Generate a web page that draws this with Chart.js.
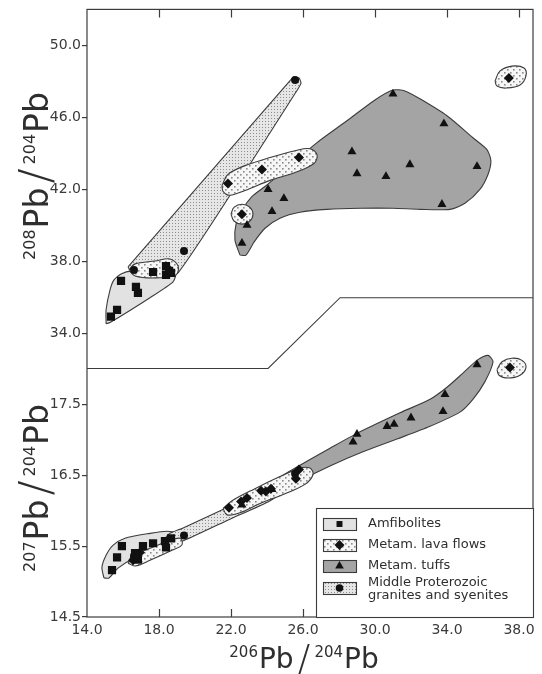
<!DOCTYPE html>
<html>
<head>
<meta charset="utf-8">
<title>Pb isotope diagram</title>
<script src="https://cdn.jsdelivr.net/npm/chart.js@4.4.1/dist/chart.umd.min.js"></script>
<style>
    html, body { margin: 0; padding: 0; background: #fff; }
    #wrap { position: relative; width: 542px; height: 674px; }
</style>
</head>
<body>
<div id="wrap"><canvas id="chart"></canvas></div>
<script>
// Axis limits and ticks (both y axes span the whole frame, one per panel)
const xMin = 14, xMax = 38.78;
const yTopMin = 18.23, yTopMax = 51.99;
const yBotMin = 14.5, yBotMax = 23.07;
const xTicks = [14, 18, 22, 26, 30, 34, 38];
const yTopTicks = [34, 38, 42, 46, 50];
const yBotTicks = [14.5, 15.5, 16.5, 17.5];

// Upper panel: 208Pb/204Pb against 206Pb/204Pb
const amfTopX = [15.33, 15.67, 15.89, 16.72, 16.83, 17.67, 18.39, 18.39, 18.56, 18.67];
const amfTopY = [34.92, 35.30, 36.91, 36.57, 36.24, 37.40, 37.73, 37.24, 37.46, 37.35];
const lavaTopX = [18.50, 21.83, 22.61, 23.72, 25.78, 37.44];
const lavaTopY = [37.60, 42.32, 40.61, 43.09, 43.76, 48.18];
const tuffTopX = [22.61, 22.89, 24.06, 24.28, 24.94, 28.72, 29.00, 30.61, 31.00, 31.94, 33.72, 33.83, 35.67];
const tuffTopY = [39.00, 40.00, 41.99, 40.77, 41.49, 44.09, 42.87, 42.71, 47.29, 43.37, 41.16, 45.64, 43.26];
const granTopX = [16.61, 19.39, 25.56];
const granTopY = [37.51, 38.56, 48.07];

// Lower panel: 207Pb/204Pb against 206Pb/204Pb
const amfBotX = [15.39, 15.67, 15.94, 16.67, 16.83, 17.11, 17.67, 18.33, 18.39, 18.67];
const amfBotY = [15.16, 15.34, 15.50, 15.40, 15.31, 15.50, 15.54, 15.57, 15.48, 15.61];
const lavaBotX = [16.56, 16.94, 21.89, 22.56, 22.89, 23.67, 23.94, 24.22, 25.61, 25.78, 37.50];
const lavaBotY = [15.30, 15.41, 16.04, 16.13, 16.18, 16.28, 16.27, 16.31, 16.45, 16.58, 18.02];
const tuffBotX = [22.61, 24.28, 28.78, 29.00, 30.67, 31.06, 32.00, 33.78, 33.89, 35.67];
const tuffBotY = [16.08, 16.30, 16.97, 17.08, 17.19, 17.22, 17.31, 17.40, 17.64, 18.06];
const granBotX = [16.61, 19.39, 25.56];
const granBotY = [15.36, 15.65, 16.52];

// Field outlines, [x, y] in data units
const amfTopOutline = [[15.06, 34.53], [15.06, 35.30], [15.28, 36.41], [15.50, 36.96], [15.89, 37.29], [16.50, 37.46],
    [18.06, 37.51], [18.94, 37.40], [18.78, 36.85], [17.50, 35.97], [15.28, 34.59]];
const granTopOutline = [[16.28, 37.68], [25.22, 47.96], [25.50, 48.23], [25.78, 48.18], [25.89, 47.90], [25.72, 47.57],
    [19.06, 37.35], [17.50, 37.29], [16.39, 37.51]];
const tuffTopOutline = [[22.50, 38.34], [22.22, 39.17], [22.28, 40.06], [22.61, 40.83], [23.17, 41.60], [23.89, 42.15],
    [25.28, 43.31], [26.78, 44.59], [28.44, 45.80], [30.00, 46.96], [31.00, 47.51], [31.67, 47.46], [32.50, 47.02],
    [34.00, 46.08], [35.44, 44.86], [36.22, 44.20], [36.44, 43.59], [36.28, 42.82], [35.83, 41.99], [35.00, 41.22],
    [34.17, 40.88], [32.50, 40.88], [31.00, 40.94], [29.17, 40.94], [27.33, 40.88], [25.83, 40.72], [24.72, 40.39],
    [23.89, 39.83], [23.28, 39.06], [22.83, 38.34]];
const lavaTopSmall = [[16.33, 37.51], [16.67, 37.85], [17.78, 38.01], [18.61, 38.12], [19.06, 37.73], [18.94, 37.24],
    [17.78, 37.07], [16.67, 37.18]];
const lavaTopLong = [[21.50, 42.21], [21.83, 42.82], [22.78, 43.31], [24.17, 43.76], [25.56, 44.14], [26.39, 44.25],
    [26.78, 43.92], [26.61, 43.43], [25.56, 42.93], [24.17, 42.49], [22.78, 41.93], [21.94, 41.66], [21.56, 41.88]];
const lavaTopRound = [[22.00, 40.61], [22.18, 41.00], [22.61, 41.16], [23.04, 41.00], [23.22, 40.61], [23.04, 40.22],
    [22.61, 40.06], [22.18, 40.22]];
const lavaTopRight = [[36.67, 48.01], [36.94, 48.56], [37.61, 48.84], [38.28, 48.73], [38.39, 48.29], [38.06, 47.79],
    [37.28, 47.62], [36.78, 47.73]];

const amfBotOutline = [[14.94, 15.05], [14.83, 15.20], [15.06, 15.37], [15.44, 15.51], [16.11, 15.61], [17.50, 15.68],
    [18.44, 15.71], [18.94, 15.68], [19.11, 15.59], [18.83, 15.52], [17.89, 15.47], [16.67, 15.34], [15.72, 15.19],
    [15.22, 15.05]];
const granBotOutline = [[18.33, 15.61], [18.61, 15.54], [19.39, 15.58], [21.94, 15.88], [24.17, 16.14], [25.83, 16.45],
    [25.94, 16.56], [25.61, 16.60], [23.89, 16.28], [21.67, 16.03], [19.28, 15.75], [18.61, 15.68]];
const tuffBotOutline = [[21.50, 15.97], [21.94, 16.11], [23.61, 16.31], [25.28, 16.56], [27.50, 16.88], [29.00, 17.09],
    [31.39, 17.38], [33.06, 17.57], [34.00, 17.74], [34.89, 17.94], [35.72, 18.13], [36.28, 18.19], [36.56, 18.10],
    [36.11, 17.82], [35.44, 17.57], [34.72, 17.39], [33.06, 17.19], [31.22, 17.01], [29.33, 16.83], [27.50, 16.63],
    [25.83, 16.42], [24.17, 16.18], [22.50, 15.97], [21.67, 15.92]];
const lavaBotLeft = [[16.28, 15.26], [16.50, 15.36], [17.50, 15.47], [18.61, 15.58], [19.17, 15.61], [19.28, 15.52],
    [18.72, 15.44], [17.50, 15.30], [16.67, 15.22]];
const lavaBotMid = [[21.56, 16.03], [22.06, 16.14], [23.33, 16.31], [24.72, 16.48], [25.83, 16.60], [26.39, 16.60],
    [26.56, 16.51], [26.11, 16.37], [25.00, 16.24], [23.61, 16.10], [22.50, 15.97], [21.78, 15.94]];
const lavaBotRight = [[36.78, 17.99], [37.06, 18.10], [37.61, 18.15], [38.17, 18.12], [38.39, 18.02], [38.06, 17.91],
    [37.39, 17.87], [36.89, 17.91]];

// Stepped line splitting the two panels (upper-axis units)
const sepX = [14, 24.06, 28.06, 38.78];
const sepY = [32.04, 32.04, 35.97, 35.97];

const legendLabels = ['Amfibolites', 'Metam. lava flows', 'Metam. tuffs', ['Middle Proterozoic', 'granites and syenites']];

// Colours and fills
const ink = '#3c3c3c';
const mark = '#111111';
const textFont = "'DejaVu Sans', sans-serif";

function dotPattern(size, bg, dot, spots, dotSize) {
    const c = document.createElement('canvas');
    c.width = size; c.height = size;
    const g = c.getContext('2d');
    g.fillStyle = bg;
    g.fillRect(0, 0, size, size);
    g.fillStyle = dot;
    spots.forEach(s => g.fillRect(s[0], s[1], dotSize, dotSize));
    return g.createPattern(c, 'repeat');
}

const amfFill = '#e2e2e2';
const tuffFill = '#a4a4a4';
const lavaFill = dotPattern(6, '#f6f6f6', '#8a8a8a', [[0, 0], [3, 3]], 1.6);
const granFill = dotPattern(3, '#e6e6e6', '#8e8e8e', [[1, 1]], 1);

function pts(xs, ys) {
    return xs.map((x, i) => ({x: x, y: ys[i]}));
}
function ring(pairs) {
    const d = pairs.map(p => ({x: p[0], y: p[1]}));
    d.push(d[0]);
    return d;
}
function region(label, outline, axis, fill, order, tension) {
    return {
        label: label, data: ring(outline), yAxisID: axis,
        showLine: true, fill: 'shape', backgroundColor: fill,
        borderColor: ink, borderWidth: 1.1, pointRadius: 0,
        tension: tension, order: order
    };
}
function marks(label, xs, ys, axis, style, r) {
    return {
        label: label, data: pts(xs, ys), yAxisID: axis, showLine: false,
        pointStyle: style, pointRadius: r, backgroundColor: mark,
        borderColor: mark, borderWidth: 0, order: 0
    };
}

const datasets = [
    // fields, upper panel
    region('tuffs top', tuffTopOutline, 'yTop', tuffFill, 4, 0.25),
    region('amf top', amfTopOutline, 'yTop', amfFill, 3, 0.2),
    region('granites top', granTopOutline, 'yTop', granFill, 2, 0.15),
    region('lava top 1', lavaTopSmall, 'yTop', lavaFill, 1, 0.35),
    region('lava top 2', lavaTopLong, 'yTop', lavaFill, 1, 0.35),
    region('lava top 3', lavaTopRound, 'yTop', lavaFill, 1, 0.45),
    region('lava top 4', lavaTopRight, 'yTop', lavaFill, 1, 0.4),
    // fields, lower panel
    region('tuffs bottom', tuffBotOutline, 'yBot', tuffFill, 4, 0.25),
    region('amf bottom', amfBotOutline, 'yBot', amfFill, 3, 0.25),
    region('granites bottom', granBotOutline, 'yBot', granFill, 2, 0.2),
    region('lava bottom 1', lavaBotLeft, 'yBot', lavaFill, 1, 0.35),
    region('lava bottom 2', lavaBotMid, 'yBot', lavaFill, 1, 0.35),
    region('lava bottom 3', lavaBotRight, 'yBot', lavaFill, 1, 0.4),
    // panel divider
    {
        label: 'divider', data: pts(sepX, sepY), yAxisID: 'yTop', showLine: true,
        borderColor: ink, borderWidth: 1.1, pointRadius: 0, fill: false, order: 5
    },
    // samples
    marks('Amfibolites', amfTopX, amfTopY, 'yTop', 'rect', 5.8),
    marks('Metam. lava flows', lavaTopX, lavaTopY, 'yTop', 'rectRot', 5),
    marks('Metam. tuffs', tuffTopX, tuffTopY, 'yTop', 'triangle', 5.2),
    marks('Granites', granTopX, granTopY, 'yTop', 'circle', 4),
    marks('Amfibolites', amfBotX, amfBotY, 'yBot', 'rect', 5.8),
    marks('Metam. lava flows', lavaBotX, lavaBotY, 'yBot', 'rectRot', 5),
    marks('Metam. tuffs', tuffBotX, tuffBotY, 'yBot', 'triangle', 5.2),
    marks('Granites', granBotX, granBotY, 'yBot', 'circle', 4)
];

// Ratio title such as 206Pb / 204Pb, centred on (cx, baseline cy)
function drawRatio(ctx, cx, cy, rot, big, small, numA, numB) {
    const fBig = big + 'px ' + textFont;
    const fSmall = small + 'px ' + textFont;
    const fSlash = '200 ' + Math.round(big * 1.35) + 'px ' + textFont;
    const parts = [
        [numA, fSmall, -big * 0.4, 1],
        ['Pb', fBig, 0, 4],
        ['/', fSlash, big * 0.1, 4],
        [numB, fSmall, -big * 0.4, 1],
        ['Pb', fBig, 0, 0]
    ];
    ctx.save();
    ctx.translate(cx, cy);
    ctx.rotate(rot);
    ctx.fillStyle = '#2e2e2e';
    ctx.textBaseline = 'alphabetic';
    ctx.textAlign = 'left';
    let total = 0;
    parts.forEach(p => { ctx.font = p[1]; p.push(ctx.measureText(p[0]).width); total += p[4] + p[3]; });
    let x = -total / 2;
    parts.forEach(p => {
        ctx.font = p[1];
        ctx.fillText(p[0], x, p[2]);
        x += p[4] + p[3];
    });
    ctx.restore();
}

function drawLegend(ctx, a) {
    const L = a.right - 217;
    const T = a.bottom - 109;
    ctx.fillStyle = '#fff';
    ctx.fillRect(L, T, a.right - L, a.bottom - T);
    ctx.strokeStyle = ink;
    ctx.lineWidth = 1.1;
    ctx.strokeRect(L + 0.5, T + 0.5, a.right - L, a.bottom - T);
    const rows = [
        {fill: amfFill, style: 'rect', r: 4.2, y: 16},
        {fill: lavaFill, style: 'rectRot', r: 5, y: 37},
        {fill: tuffFill, style: 'triangle', r: 5, y: 58},
        {fill: granFill, style: 'circle', r: 3.8, y: 80}
    ];
    ctx.font = '13px ' + textFont;
    ctx.textBaseline = 'middle';
    ctx.textAlign = 'left';
    rows.forEach((row, i) => {
        const sx = L + 7, sy = T + row.y;
        ctx.fillStyle = row.fill;
        ctx.fillRect(sx, sy - 6, 33, 12);
        ctx.strokeRect(sx + 0.5, sy - 6 + 0.5, 33, 12);
        ctx.fillStyle = mark;
        Chart.helpers.drawPoint(ctx, {pointStyle: row.style, radius: row.r, rotation: 0, borderWidth: 0}, sx + 16.5, sy);
        ctx.fillStyle = '#2e2e2e';
        const lab = legendLabels[i];
        if (Array.isArray(lab)) {
            ctx.fillText(lab[0], L + 52, sy - 5);
            ctx.fillText(lab[1], L + 52, sy + 8);
        } else {
            ctx.fillText(lab, L + 52, sy);
        }
    });
}

const decorations = {
    id: 'decorations',
    afterLayout(chart) {
        // the lower-panel axis has no width of its own; widen its label clip box
        chart.scales.yBot.left = chart.scales.yTop.left;
    },
    afterDatasetsDraw(chart) {
        const {ctx, chartArea: a, scales} = chart;
        ctx.save();
        ctx.strokeStyle = ink;
        ctx.lineWidth = 1.2;
        ctx.strokeRect(a.left, a.top, a.right - a.left, a.bottom - a.top);
        // inward ticks on the top and bottom edges
        ctx.beginPath();
        xTicks.forEach(v => {
            if (v === xMin) return;
            const px = Math.round(scales.x.getPixelForValue(v)) + 0.5;
            ctx.moveTo(px, a.top); ctx.lineTo(px, a.top + 8);
            ctx.moveTo(px, a.bottom); ctx.lineTo(px, a.bottom - 8);
        });
        ctx.stroke();
        drawLegend(ctx, a);
        ctx.restore();
    },
    afterDraw(chart) {
        const {ctx, chartArea: a} = chart;
        drawRatio(ctx, 48, 176, -Math.PI / 2, 33, 16, '208', '204');
        drawRatio(ctx, 48, 488, -Math.PI / 2, 33, 16, '207', '204');
        drawRatio(ctx, (a.left + a.right) / 2 - 6, a.bottom + 51, 0, 28, 15, '206', '204');
    }
};

const tickFont = {family: textFont, size: 14};
const yGrid = {drawOnChartArea: false, drawTicks: true, tickLength: 5, color: ink, lineWidth: 1.2};

new Chart(document.getElementById('chart'), {
    type: 'scatter',
    data: {datasets: datasets},
    options: {
        responsive: true,
        maintainAspectRatio: false,
        animation: false,
        events: [],
        layout: {padding: {top: 6, right: 9, left: 0, bottom: 0}},
        plugins: {legend: {display: false}, tooltip: {enabled: false}},
        scales: {
            x: {
                type: 'linear', position: 'bottom', min: xMin, max: xMax,
                afterBuildTicks: s => { s.ticks = xTicks.map(v => ({value: v})); },
                afterFit: s => { s.height = 57; },
                ticks: {autoSkip: false, maxRotation: 0, padding: 5, font: tickFont, color: '#3a3a3a',
                    callback: v => Number(v).toFixed(1)},
                grid: {display: false, drawTicks: false},
                border: {display: false}
            },
            yTop: {
                type: 'linear', position: 'left', weight: 1, min: yTopMin, max: yTopMax,
                afterBuildTicks: s => { s.ticks = yTopTicks.map(v => ({value: v})); },
                afterFit: s => { s.width = 87; },
                ticks: {autoSkip: false, padding: 1, font: tickFont, color: '#3a3a3a',
                    callback: v => Number(v).toFixed(1)},
                grid: yGrid,
                border: {display: false}
            },
            yBot: {
                type: 'linear', position: 'left', weight: 0, min: yBotMin, max: yBotMax,
                afterBuildTicks: s => { s.ticks = yBotTicks.map(v => ({value: v})); },
                afterFit: s => { s.width = 0; },
                ticks: {autoSkip: false, padding: 1, font: tickFont, color: '#3a3a3a',
                    callback: v => Number(v).toFixed(1)},
                grid: yGrid,
                border: {display: false}
            }
        }
    },
    plugins: [decorations]
});
</script>
</body>
</html>
